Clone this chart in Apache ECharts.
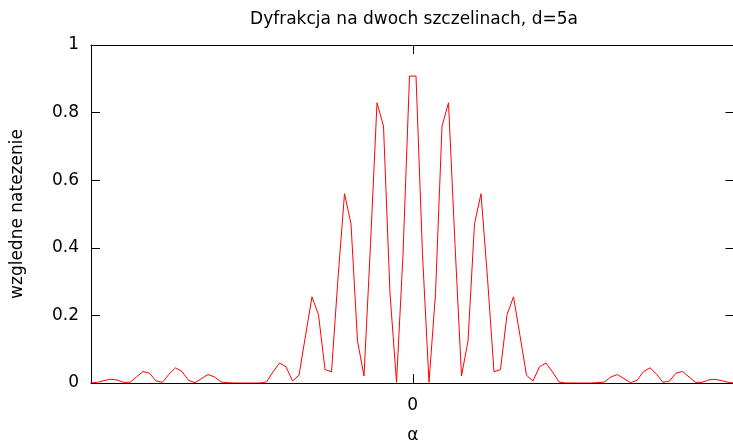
<!DOCTYPE html>
<html>
<head>
<meta charset="utf-8">
<script src="https://cdn.jsdelivr.net/npm/echarts@6/dist/echarts.min.js"></script>
<style>
  html, body { margin: 0; padding: 0; background: #fff; }
  #chart { width: 733px; height: 441px; }
</style>
</head>
<body>
<div id="chart"></div>
<script>
// wzgledne natezenie, 100 probek (odczyt z wykresu)
const intensity = [
  0.000, 0.002, 0.007, 0.011, 0.009, 0.002, 0.002, 0.018, 0.034, 0.029,
  0.006, 0.002, 0.026, 0.045, 0.034, 0.008, 0.001, 0.013, 0.025, 0.018,
  0.003, 0.001, 0.000, 0.000, 0.000, 0.000, 0.000, 0.003, 0.033, 0.059,
  0.048, 0.006, 0.023, 0.140, 0.255, 0.202, 0.040, 0.033, 0.310, 0.560,
  0.471, 0.124, 0.021, 0.410, 0.829, 0.760, 0.265, 0.002, 0.380, 0.908,
  0.908, 0.380, 0.002, 0.265, 0.760, 0.829, 0.410, 0.021, 0.124, 0.471,
  0.560, 0.310, 0.033, 0.040, 0.202, 0.255, 0.140, 0.023, 0.006, 0.048,
  0.059, 0.033, 0.003, 0.000, 0.000, 0.000, 0.000, 0.000, 0.001, 0.003,
  0.018, 0.025, 0.013, 0.001, 0.008, 0.034, 0.045, 0.026, 0.002, 0.006,
  0.029, 0.034, 0.018, 0.002, 0.002, 0.009, 0.011, 0.007, 0.002, 0.000
];
const sampleIdx = intensity.map((v, i) => i);
const xTicks = [0];

const FONT = 'DejaVu Sans';
const chart = echarts.init(document.getElementById('chart'));

const tickStyle = { color: '#000', width: 1 };

let option = {
  animation: false,
  backgroundColor: '#fff',
  title: {
    text: 'Dyfrakcja na dwoch szczelinach, d=5a',
    left: 409,
    top: 6,
    textAlign: 'center',
    textStyle: { fontFamily: FONT, fontSize: 17, fontWeight: 'normal', color: '#000' }
  },
  grid: {
    left: 91,
    top: 45,
    width: 643.5,
    height: 338,
    outerBoundsMode: 'none'
  },
  xAxis: [{
    type: 'category',
    data: sampleIdx,
    boundaryGap: false,
    show: false
  }, {
    // dolna os z jedna etykieta "0"
    type: 'value',
    min: -1,
    max: 1,
    position: 'bottom',
    name: 'α',
    nameLocation: 'middle',
    nameGap: 44,
    nameTextStyle: { fontFamily: FONT, fontSize: 17, color: '#000' },
    axisLine: { show: true, onZero: false, lineStyle: tickStyle },
    axisTick: { show: true, inside: true, length: 9, customValues: xTicks, lineStyle: tickStyle },
    axisLabel: { show: true, customValues: xTicks, margin: 14, fontFamily: FONT, fontSize: 17, color: '#000' },
    splitLine: { show: false }
  }, {
    // gorna ramka
    type: 'value',
    min: -1,
    max: 1,
    position: 'top',
    axisLine: { show: true, onZero: false, lineStyle: tickStyle },
    axisTick: { show: true, inside: true, length: 9, customValues: xTicks, lineStyle: tickStyle },
    axisLabel: { show: false },
    splitLine: { show: false }
  }],
  yAxis: [{
    type: 'value',
    min: 0,
    max: 1,
    interval: 0.2,
    position: 'left',
    name: 'wzgledne natezenie',
    nameLocation: 'middle',
    nameGap: 65,
    nameTextStyle: { fontFamily: FONT, fontSize: 17, color: '#000' },
    axisLine: { show: true, onZero: false, lineStyle: tickStyle },
    axisTick: { show: true, inside: true, length: 9, lineStyle: tickStyle },
    axisLabel: {
      margin: 12, fontFamily: FONT, fontSize: 17, color: '#000',
      formatter: (v) => String(+v.toFixed(1))
    },
    splitLine: { show: false }
  }, {
    type: 'value',
    min: 0,
    max: 1,
    interval: 0.2,
    position: 'right',
    axisLine: { show: true, onZero: false, lineStyle: tickStyle },
    axisTick: { show: true, inside: true, length: 9, lineStyle: tickStyle },
    axisLabel: { show: false },
    splitLine: { show: false }
  }],
  series: [{
    type: 'line',
    xAxisIndex: 0,
    yAxisIndex: 0,
    data: intensity,
    showSymbol: false,
    symbol: 'none',
    lineStyle: { color: '#ff0000', width: 1 },
    itemStyle: { color: '#ff0000' }
  }]
};
chart.setOption(option);
</script>
</body>
</html>
